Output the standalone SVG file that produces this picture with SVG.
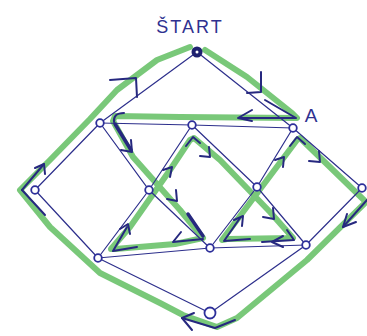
<svg xmlns="http://www.w3.org/2000/svg" width="367" height="336" viewBox="0 0 367 336">
<style>
.bg{fill:#ffffff}
.edge{fill:none;stroke:#2d2f8c;stroke-width:1.2;stroke-linecap:round}
.trail{fill:none;stroke:#62be62;stroke-width:6;stroke-linejoin:round;stroke-linecap:round;opacity:0.85}
.mark{fill:none;stroke:#26287f;stroke-width:2;stroke-linecap:round;stroke-linejoin:round}
.thick{fill:none;stroke:#26287f;stroke-width:3.5;stroke-linecap:round}
.node{fill:#ffffff;stroke:#2d2f9a;stroke-width:1.8}
.lbl{font-family:"Liberation Sans",Arial,sans-serif;fill:#2f3190}
</style>
<rect class="bg" width="367" height="336"/>
<g id="trail">
<path class="trail" d="M205,50 L247,77 L292,113 L297,118 L180,117 L115,116 L113,121 L133,157 L180,210 L203,238 L175,244 L115,249 L111,249 L130,227 L170,170 L190,140 L194,138 L220,160 L270,212 L293,238 L227,239 L222,240 L297,140 L300,138 L366,202 L307,260 L237,318 L217,327 L183,315 L160,303 L100,273 L50,227 L20,190 L50,160 L90,119 L117,90 L157,60 L190,47"/>
</g>
<g id="connectors">
<path class="edge" d="M197,52 L100,123"/>
<path class="edge" d="M197,52 L293,128"/>
<path class="edge" d="M100,123 L192,125 L293,128"/>
<path class="edge" d="M100,123 L35,190"/>
<path class="edge" d="M35,190 L98,258"/>
<path class="edge" d="M98,258 L210,313"/>
<path class="edge" d="M210,313 L306,245 L362,188"/>
<path class="edge" d="M362,188 L293,128"/>
<path class="edge" d="M98,258 L210,248 L306,245"/>
<path class="edge" d="M100,123 L149,190 L210,248"/>
<path class="edge" d="M98,258 L149,190 L192,125"/>
<path class="edge" d="M192,125 L257,187 L306,245"/>
<path class="edge" d="M293,128 L257,187 L210,248"/>
</g>
<g id="arrows">
<path class="mark" d="M261,72 L261,92 L247,93"/>
<path class="mark" d="M265,100 L296,118 L240,118"/>
<path class="mark" d="M252,110 L238,118 L252,121"/>
<path class="mark" d="M124,113 Q113,113 114,122"/>
<path class="thick" d="M115,124 L131,150"/>
<path class="mark" d="M131,140 L132,152 L121,150"/>
<path class="mark" d="M176,190 L177,201 L167,199"/>
<path class="thick" d="M188,214 L203,236"/>
<path class="mark" d="M181,232 L173,242 L203,239"/>
<path class="mark" d="M137,247 L113,251 L127,227"/>
<path class="mark" d="M120,229 L128,224 L130,234"/>
<path class="mark" d="M163,170 L172,167 L170,177"/>
<path class="mark" d="M186,146 L193,137 L200,143"/>
<path class="mark" d="M209,147 L210,157 L200,156"/>
<path class="mark" d="M273,208 L274,219 L263,217"/>
<path class="mark" d="M287,230 L294,240 L262,242"/>
<path class="mark" d="M283,236 L272,242 L283,247"/>
<path class="mark" d="M250,239 L224,241 L240,218"/>
<path class="mark" d="M234,220 L243,216 L242,226"/>
<path class="mark" d="M275,160 L284,157 L283,167"/>
<path class="mark" d="M290,146 L297,137 L305,144"/>
<path class="mark" d="M319,151 L320,162 L309,161"/>
<path class="mark" d="M367,200 L343,227"/>
<path class="mark" d="M347,214 L343,227 L356,222"/>
<path class="mark" d="M182,318 L215,328 L235,320"/>
<path class="mark" d="M194,313 L182,318 L192,330"/>
<path class="mark" d="M110,80 L136,78 L137,97"/>
<path class="mark" d="M22,190 L44,164"/>
<path class="mark" d="M35,168 L44,164 L45,174"/>
<path class="mark" d="M22,190 L45,215"/>
</g>
<g id="start">
<circle cx="197" cy="52" r="5.5" fill="#1f2170"/>
<circle cx="197" cy="52" r="1.5" fill="#ffffff"/>
<text class="lbl" x="190" y="33" font-size="18" text-anchor="middle" letter-spacing="2">ŠTART</text>
</g>
<g id="p1"><circle class="node" cx="100" cy="123" r="3.8"/></g>
<g id="p2"><circle class="node" cx="192" cy="125" r="3.8"/></g>
<g id="a"><circle class="node" cx="293" cy="128" r="3.8"/><text class="lbl" x="311" y="122" font-size="19" text-anchor="middle">A</text></g>
<g id="l"><circle class="node" cx="35" cy="190" r="3.8"/></g>
<g id="c1"><circle class="node" cx="149" cy="190" r="3.8"/></g>
<g id="c2"><circle class="node" cx="257" cy="187" r="3.8"/></g>
<g id="r"><circle class="node" cx="362" cy="188" r="3.8"/></g>
<g id="bl"><circle class="node" cx="98" cy="258" r="3.8"/></g>
<g id="bm"><circle class="node" cx="210" cy="248" r="3.8"/></g>
<g id="br"><circle class="node" cx="306" cy="245" r="3.8"/></g>
<g id="bottom"><circle class="node" cx="210" cy="313" r="5.5" stroke-width="2.2"/></g>
</svg>
